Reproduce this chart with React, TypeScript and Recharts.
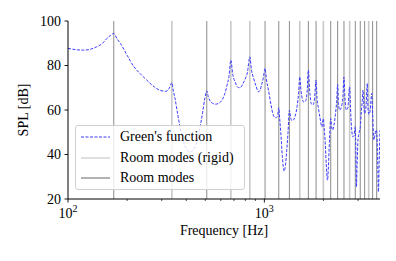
import React from "react";
import { LineChart, Line, XAxis, YAxis, ReferenceLine, Legend } from "recharts";

const freqs = [
  100, 110, 120, 130, 140, 150, 158, 165, 171, 178, 185, 200, 216, 235, 252, 275, 295, 315, 328, 338,
  344, 351, 362, 372, 385, 397, 410, 420, 432, 445, 460, 472, 485, 497, 509, 518, 530, 545, 563, 585,
  608, 630, 645, 660, 675, 690, 710, 730, 752, 775, 797, 820, 843, 860, 880, 905, 932, 950, 967, 988,
  1008, 1025, 1049, 1080, 1110, 1140, 1165, 1184, 1197, 1212, 1235, 1260, 1280, 1300, 1320, 1341, 1360, 1378, 1405, 1432,
  1470, 1495, 1514, 1535, 1560, 1590, 1620, 1650, 1675, 1700, 1739, 1770, 1800, 1833, 1855, 1883, 1920, 1963, 1997, 2015,
  2036, 2065, 2097, 2120, 2145, 2177, 2200, 2225, 2260, 2300, 2335, 2361, 2385, 2418, 2470, 2510, 2543, 2570, 2610, 2660,
  2718, 2745, 2780, 2820, 2857, 2904, 2925, 2943, 2965, 3000, 3040, 3078, 3110, 3150, 3180, 3210, 3240, 3290, 3343, 3370,
  3410, 3460, 3520, 3560, 3608, 3660, 3700, 3732, 3770, 3810, 3845, 3880,
];

const spl = [
  87.7, 87.1, 86.9, 87.3, 88.4, 90.0, 92.2, 93.6, 94.4, 91.9, 89.9, 84.6, 79.6, 76.0, 73.4, 70.4, 68.8, 68.4, 69.8, 72.3,
  68.5, 65.0, 58.0, 52.4, 46.5, 43.2, 41.6, 41.2, 41.8, 43.6, 48.0, 53.0, 59.0, 65.0, 68.6, 66.0, 64.0, 63.0, 62.6, 63.0,
  64.4, 67.5, 71.0, 75.0, 82.4, 76.0, 72.5, 70.3, 70.0, 71.5, 73.8, 77.0, 83.9, 78.0, 74.5, 71.0, 68.2, 68.8, 71.2, 74.5,
  78.7, 73.5, 69.0, 62.5, 57.7, 56.5, 57.0, 61.0, 56.0, 50.0, 39.0, 32.5, 35.0, 41.9, 50.0, 59.9, 57.0, 55.2, 55.5, 57.0,
  62.0, 68.0, 74.9, 69.0, 65.0, 63.5, 64.0, 68.0, 77.9, 69.0, 62.6, 62.3, 65.0, 73.4, 65.0, 61.0, 56.5, 52.4, 56.1, 52.0,
  47.0, 36.0, 28.4, 35.0, 46.0, 56.1, 52.5, 51.0, 53.0, 58.0, 64.0, 71.5, 63.0, 59.9, 61.5, 66.0, 74.8, 66.0, 60.0, 61.0,
  70.4, 61.0, 52.0, 48.0, 48.5, 52.5, 40.0, 25.4, 35.0, 47.0, 50.0, 52.0, 58.0, 64.0, 69.0, 62.0, 58.4, 61.0, 72.0, 61.0,
  58.0, 60.0, 67.4, 58.0, 46.5, 49.0, 51.0, 50.5, 40.0, 23.2, 38.0, 50.9,
];

const rigidModes = [338, 675, 843, 1514, 1997, 2718, 3398];
const roomModes = [171, 509, 1008, 1184, 1341, 1675, 1833, 2177, 2361, 2543, 2904, 3078, 3240, 3558, 3732];

const xTicks = [100, 200, 300, 400, 500, 600, 700, 800, 900, 1000, 2000, 3000];
const majorTicks: Record<number, string> = { 100: "2", 1000: "3" };
const yTicks = [20, 40, 60, 80, 100];

const legendItems = [
  { label: "Green's function", color: "#3b3bff", dash: "3 1.5", width: 1 },
  { label: "Room modes (rigid)", color: "#d4d4d4", dash: undefined, width: 1.5 },
  { label: "Room modes", color: "#999999", dash: undefined, width: 1.5 },
];

const FONT = "'Liberation Serif', 'DejaVu Serif', serif";

const data = freqs.map((f, i) => ({ f, spl: spl[i] }));

const XTick = (props: any) => {
  const { x, y, payload } = props;
  const v = payload.value as number;
  const exp = majorTicks[v];
  return (
    <g>
      <line x1={x} x2={x} y1={y} y2={y + (exp ? 3.5 : 2)} stroke="#000" strokeWidth={exp ? 0.9 : 0.7} />
      {exp && (
        <text x={x} y={y + 19} textAnchor="middle" fontFamily={FONT} fontSize={14} fill="#000">
          <tspan>10</tspan>
          <tspan dy={-6} fontSize={10}>{exp}</tspan>
        </text>
      )}
    </g>
  );
};

const renderLegend = () => (
  <div
    style={{
      position: "relative",
      width: 170,
      height: 65,
      boxSizing: "border-box",
      background: "rgba(255,255,255,0.8)",
      border: "1px solid #d0d0d0",
      borderRadius: 3,
      fontFamily: FONT,
      fontSize: 14,
      color: "#000",
    }}
  >
    {legendItems.map((it, i) => (
      <div
        key={it.label}
        style={{ position: "absolute", left: 4, top: 1 + i * 20.5, height: 20, display: "flex", alignItems: "center", whiteSpace: "nowrap" }}
      >
        <svg width={30} height={20} style={{ display: "block" }}>
          <line x1={1} x2={30} y1={10} y2={10} stroke={it.color} strokeWidth={it.width} strokeDasharray={it.dash} />
        </svg>
        <span style={{ marginLeft: 10, lineHeight: "20px" }}>{it.label}</span>
      </div>
    ))}
  </div>
);

export default function App() {
  return (
    <div style={{ position: "absolute", left: 0, top: 0, width: 396, height: 261, background: "#fff" }}>
      <LineChart width={396} height={261} data={data} margin={{ top: 21, right: 16, bottom: 0, left: 0 }}>
        <XAxis
          dataKey="f"
          type="number"
          scale="log"
          domain={[100, 3880]}
          allowDataOverflow
          ticks={xTicks}
          interval={0}
          tick={<XTick />}
          tickLine={false}
          tickSize={0}
          tickMargin={0}
          height={62}
          axisLine={{ stroke: "#000", strokeWidth: 1 }}
          label={{
            content: (p: any) => {
              const vb = p.viewBox;
              return (
                <text x={vb.x + vb.width / 2} y={vb.y + 31} textAnchor="middle" dominantBaseline="central" fontFamily={FONT} fontSize={14} fill="#000">
                  Frequency [Hz]
                </text>
              );
            },
          }}
        />
        <XAxis xAxisId="top" orientation="top" dataKey="f" type="number" scale="log" domain={[100, 3880]} allowDataOverflow tick={false} tickLine={false} height={0} axisLine={{ stroke: "#000", strokeWidth: 1 }} />
        <YAxis
          type="number"
          domain={[20, 100]}
          ticks={yTicks}
          interval={0}
          allowDataOverflow
          width={68}
          tickSize={3.5}
          tickMargin={3.5}
          tickLine={{ stroke: "#000", strokeWidth: 0.9 }}
          axisLine={{ stroke: "#000", strokeWidth: 1 }}
          tick={{ fontFamily: FONT, fontSize: 14, fill: "#000" }}
          label={{
            content: (p: any) => {
              const vb = p.viewBox;
              const cx = 23;
              const cy = vb.y + vb.height / 2;
              return (
                <text x={cx} y={cy} transform={`rotate(-90 ${cx} ${cy})`} textAnchor="middle" dominantBaseline="central" fontFamily={FONT} fontSize={14} fill="#000">
                  SPL [dB]
                </text>
              );
            },
          }}
        />
        <YAxis yAxisId="right" orientation="right" domain={[20, 100]} tick={false} tickLine={false} width={0} axisLine={{ stroke: "#000", strokeWidth: 1 }} />
        {rigidModes.map((m) => (
          <ReferenceLine key={"r" + m} x={m} stroke="#c8c8c8" strokeWidth={1.6} />
        ))}
        {roomModes.map((m) => (
          <ReferenceLine key={"m" + m} x={m} stroke="#8c8c8c" strokeWidth={1} />
        ))}
        <Line
          dataKey="spl"
          type="monotone"
          stroke="#3b3bff"
          strokeWidth={1}
          strokeDasharray="3 1.5"
          dot={false}
          activeDot={false}
          isAnimationActive={false}
        />
        <Legend
          layout="vertical"
          align="center"
          verticalAlign="middle"
          content={renderLegend}
          wrapperStyle={{ position: "absolute", left: 75, top: 125, width: 170, height: 65 }}
        />
      </LineChart>
    </div>
  );
}
